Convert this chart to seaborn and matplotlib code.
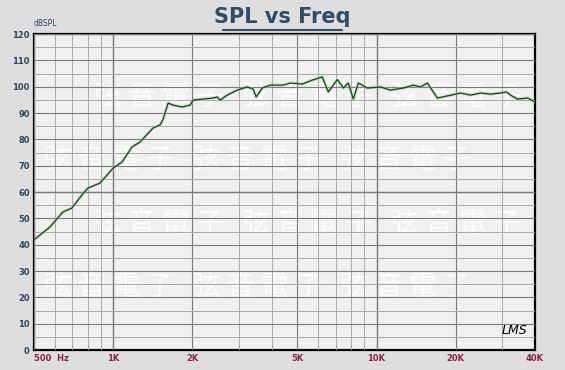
import numpy as np
import pandas as pd
import matplotlib
matplotlib.use("Agg")
import matplotlib.pyplot as plt
import seaborn as sns
from matplotlib.ticker import FixedLocator, NullFormatter

# frequency response
FREQ = [500, 575, 644, 697, 761, 802, 891, 1000, 1081, 1179, 1265, 1417, 1507,
        1547, 1617, 1689, 1826, 1960, 2011, 2196, 2397, 2481, 2548, 2709, 2957,
        3227, 3401, 3492, 3681, 3947, 4423, 4703, 5225, 5705, 6225, 6560, 7100,
        7480, 7815, 8165, 8530, 9230, 10350, 11290, 12650, 13810, 14690, 15600,
        17030, 18590, 20850, 22750, 24830, 27100, 29580, 31180, 32270, 34350,
        37500, 40000]
SPL = [41.8, 46.7, 52.4, 53.9, 58.9, 61.5, 63.4, 69.1, 71.4, 77.1, 79.0, 84.3, 85.5,
       87.6, 93.8, 93.0, 92.3, 93.0, 94.9, 95.3, 95.7, 96.1, 94.9, 96.8, 98.7,
       99.9, 99.1, 96.1, 99.5, 100.6, 100.6, 101.4, 101.0, 102.5, 103.7, 98.0, 102.7,
       99.5, 101.4, 95.3, 101.4, 99.5, 99.9, 98.7, 99.5, 100.6, 99.9, 101.4,
       95.7, 96.5, 97.6, 96.8, 97.6, 97.2, 97.6, 98.0, 96.8, 95.3,
       95.7, 94.2]

X_TICKS = [500, 1000, 2000, 5000, 10000, 20000, 40000]
X_LABELS = ["500  Hz", "1K", "2K", "5K", "10K", "20K", "40K"]
Y_TICKS = list(range(0, 121, 10))

df = pd.DataFrame({"freq": FREQ, "spl": SPL})

sns.set_theme(style="white")
plt.rcParams["font.family"] = ["DejaVu Sans", "Noto Sans CJK TC"]

fig = plt.figure(figsize=(5.65, 3.70), dpi=100, facecolor="#dedede")

ax = fig.add_axes([0.060, 0.054, 0.887, 0.854])
ax.set_facecolor("#f0f0f0")

# faint watermark inside the plot area
for i, yy in enumerate([0.80, 0.60, 0.40, 0.20]):
    x0 = 0.02 if i % 2 else 0.12
    ax.text(x0, yy, "弦 音 電 子   弦 音 電 子   弦 音 電 子",
            transform=ax.transAxes, fontsize=20, color="white", alpha=0.85,
            family=["Noto Sans CJK TC"], va="center", ha="left", zorder=0.5)

ax.set_xscale("log")
ax.set_xlim(500, 40000)
ax.set_ylim(0, 120)

minor_x = [600, 700, 800, 900, 3000, 4000, 6000, 7000, 8000, 9000, 30000]
ax.xaxis.set_major_locator(FixedLocator(X_TICKS))
ax.xaxis.set_minor_locator(FixedLocator(minor_x))
ax.xaxis.set_minor_formatter(NullFormatter())
ax.set_xticklabels(X_LABELS)
ax.yaxis.set_major_locator(FixedLocator(Y_TICKS))
ax.yaxis.set_minor_locator(FixedLocator(list(range(5, 120, 10))))

ax.set_axisbelow(False)
ax.grid(True, which="major", axis="both", color="#7a7a7a", lw=0.8, zorder=1)
ax.grid(True, which="minor", axis="both", color="#a8a8a8", lw=0.7, zorder=1)
ax.axhline(60, color="#444444", lw=0.9, zorder=1)
for f in [1000, 10000]:
    ax.axvline(f, color="#555555", lw=0.9, zorder=1)

sns.lineplot(data=df, x="freq", y="spl", ax=ax, color="#9fd49f", lw=2.2,
             alpha=0.6, zorder=3)
sns.lineplot(data=df, x="freq", y="spl", ax=ax, color="#1c3f1c", lw=0.9,
             zorder=4)

ax.set_xlabel("")
ax.set_ylabel("")
ax.tick_params(axis="both", which="both", length=0, pad=3)
for lab in ax.get_xticklabels():
    lab.set_color("#8c2048")
    lab.set_fontsize(6)
    lab.set_fontweight("bold")
ax.get_xticklabels()[0].set_horizontalalignment("left")
for lab in ax.get_yticklabels():
    lab.set_color("#2f4560")
    lab.set_fontsize(6)
    lab.set_fontweight("bold")

for s in ax.spines.values():
    s.set_color("black")
    s.set_linewidth(1.6)

fig.text(0.060, 0.925, "dBSPL", fontsize=5.5, color="#2f4560", ha="left",
         va="bottom")
fig.text(0.5, 0.955, "SPL vs Freq", fontsize=15, fontweight="bold",
         color="#2e4d66", ha="center", va="center")
fig.add_artist(plt.Line2D([0.395, 0.605], [0.918, 0.918], color="#2e4d66",
                          lw=1.5))
ax.text(0.985, 0.04, "LMS", transform=ax.transAxes, fontsize=9,
        style="italic", color="black", ha="right", va="bottom", zorder=5)

fig.savefig("out.png", dpi=100, facecolor=fig.get_facecolor())
